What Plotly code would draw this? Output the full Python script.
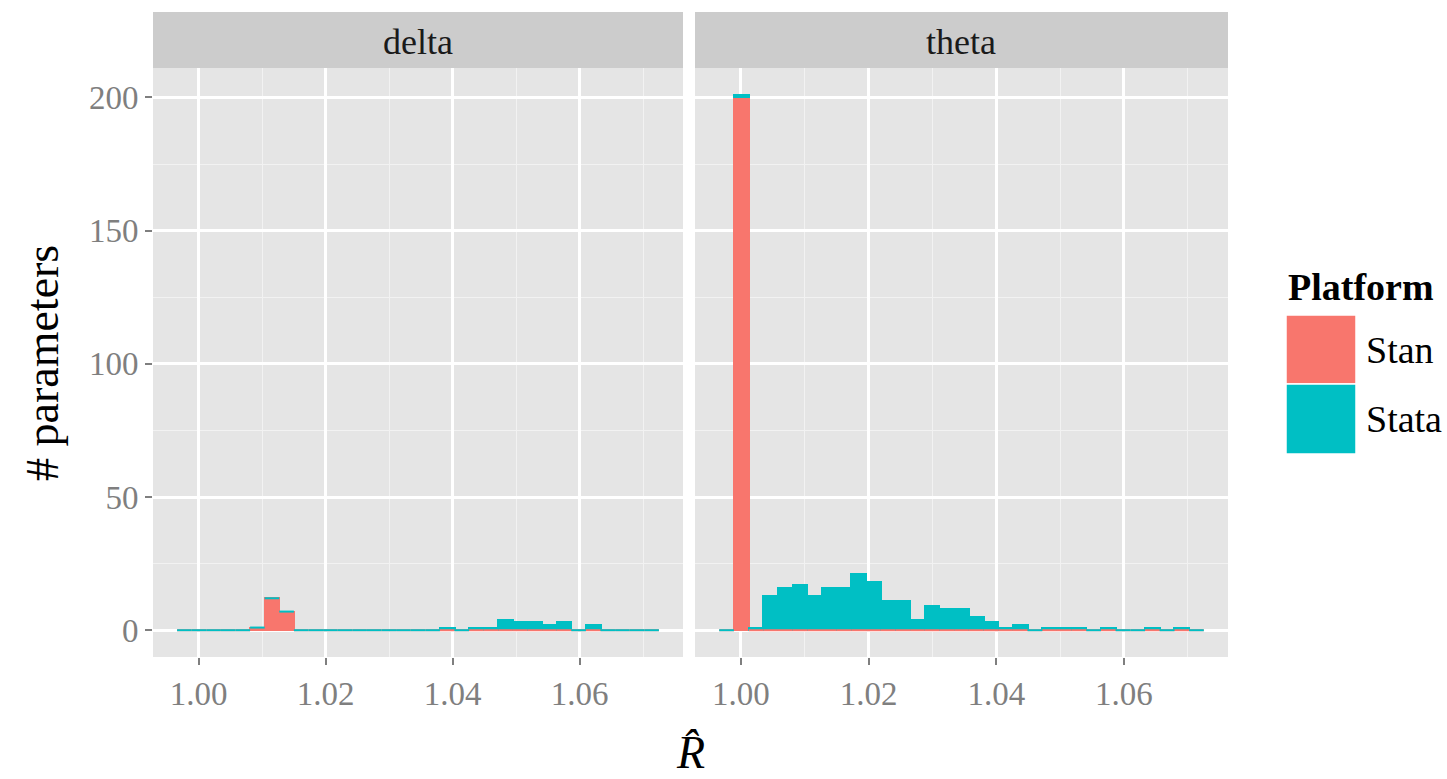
import plotly.graph_objects as go

# Histogram bins (shared by both facets)
bin_start = 0.9966
bin_width = 0.0023
n_bins = 33

facets = ["delta", "theta"]
platforms = ["Stan", "Stata"]
colors = {"Stan": "#F8766D", "Stata": "#00BFC4"}

# Counts per bin
delta_stan = [0, 0, 0, 0, 0, 1, 12, 7, 0, 0, 0, 0, 0, 0, 0, 0, 0, 0, 0, 0,
              0, 0, 0, 0, 0, 0, 0, 0, 0, 0, 0, 0, 0]
delta_stata = [0, 0, 0, 0, 0, 0, 0, 0, 0, 0, 0, 0, 0, 0, 0, 0, 0, 0, 1, 0,
               1, 1, 4, 3, 3, 2, 3, 0, 2, 0, 0, 0, 0]
theta_stan = [0, 200, 0, 0, 0, 0, 0, 0, 0, 0, 0, 0, 0, 0, 0, 0, 0, 0, 0, 0,
              0, 0, 0, 0, 0, 0, 0, 0, 0, 0, 0, 0, 0]
theta_stata = [0, 1, 1, 13, 16, 17, 13, 16, 16, 21, 18, 11, 11, 4, 9, 8, 8, 5, 3, 1,
               2, 0, 1, 1, 1, 0, 1, 0, 0, 1, 0, 1, 0]

counts = {
    "delta": {"Stan": delta_stan, "Stata": delta_stata},
    "theta": {"Stan": theta_stan, "Stata": theta_stata},
}

x_major = [1.00, 1.02, 1.04, 1.06]
x_minor = [1.01, 1.03, 1.05, 1.07]
y_major = [0, 50, 100, 150, 200]
y_minor = [25, 75, 125, 175]

W, H = 1447, 779
serif = "Liberation Serif"

edges = [bin_start + bin_width * k for k in range(n_bins + 1)]
centers = [(edges[k] + edges[k + 1]) / 2 for k in range(n_bins)]

# ggplot-style 5% expansion
x_lo, x_hi = edges[0], edges[-1]
x_pad = (x_hi - x_lo) * 0.05
y_max = max(max(a + b for a, b in zip(counts[f]["Stan"], counts[f]["Stata"])) for f in facets)
y_pad = y_max * 0.05

fig = go.Figure()

panel_px = {"delta": (153, 683), "theta": (695, 1228)}
panel_top, panel_bot = 68, 657
strip_top = 12

for i, f in enumerate(facets):
    xa = "x" if i == 0 else "x2"
    ya = "y" if i == 0 else "y2"
    stan = counts[f]["Stan"]
    for p in platforms:
        vals = counts[f][p]
        fig.add_trace(go.Bar(
            x=centers, y=[v if v > 0 else None for v in vals], width=bin_width,
            marker=dict(color=colors[p], line=dict(color=colors[p], width=2)),
            xaxis=xa, yaxis=ya, showlegend=False, hoverinfo="x+y", name=p))
    # outlines of empty bins (zero-height bars keep their border)
    for p in platforms:
        sx, sy = [], []
        for k in range(n_bins):
            if counts[f][p][k] == 0:
                base = 0 if p == "Stan" else stan[k]
                sx += [edges[k], edges[k + 1], None]
                sy += [base, base, None]
        fig.add_trace(go.Scatter(
            x=sx, y=sy, mode="lines", line=dict(color=colors[p], width=2),
            xaxis=xa, yaxis=ya, showlegend=False, hoverinfo="skip"))

    x0p, x1p = panel_px[f]
    fig.add_shape(type="rect", xref="paper", yref="paper",
                  x0=x0p / W, x1=x1p / W, y0=1 - panel_top / H, y1=1 - strip_top / H,
                  fillcolor="#CCCCCC", line=dict(width=0), layer="below")
    fig.add_annotation(text=f, xref="paper", yref="paper",
                       x=(x0p + x1p) / 2 / W, y=1 - (strip_top + panel_top + 4) / 2 / H,
                       showarrow=False, font=dict(family=serif, size=36, color="#1A1A1A"),
                       xanchor="center", yanchor="middle")

axis_common = dict(
    showgrid=True, gridcolor="white", gridwidth=2.6, zeroline=False,
    ticks="outside", ticklen=7, tickwidth=2, tickcolor="#7F7F7F",
    tickfont=dict(family=serif, size=33, color="#7F7F7F"),
    showline=False,
)

xdom1 = [panel_px["delta"][0] / W, panel_px["delta"][1] / W]
xdom2 = [panel_px["theta"][0] / W, panel_px["theta"][1] / W]
ydom = [1 - panel_bot / H, 1 - panel_top / H]

xkw = dict(axis_common, range=[x_lo - x_pad, x_hi + x_pad], tickvals=x_major,
           ticktext=[f"{v:.2f}" for v in x_major],
           minor=dict(tickvals=x_minor, showgrid=True, gridcolor="#F2F2F2", gridwidth=1.4, ticks=""))
ykw = dict(axis_common, range=[-y_pad, y_max + y_pad], tickvals=y_major,
           ticktext=[str(v) for v in y_major],
           minor=dict(tickvals=y_minor, showgrid=True, gridcolor="#F2F2F2", gridwidth=1.4, ticks=""))

fig.update_layout(
    width=W, height=H,
    margin=dict(l=0, r=0, t=0, b=0),
    paper_bgcolor="white", plot_bgcolor="#E5E5E5",
    barmode="stack", bargap=0,
    showlegend=False,
    xaxis=dict(xkw, domain=xdom1, anchor="y"),
    xaxis2=dict(xkw, domain=xdom2, anchor="y2", matches="x"),
    yaxis=dict(ykw, domain=ydom, anchor="x"),
    yaxis2=dict(ykw, domain=ydom, anchor="x2", matches="y", showticklabels=False, ticks=""),
)

# axis titles
fig.add_annotation(text="# parameters", xref="paper", yref="paper",
                   x=42 / W, y=1 - 363 / H, textangle=-90, showarrow=False,
                   font=dict(family=serif, size=46, color="black"),
                   xanchor="center", yanchor="middle")
fig.add_annotation(text="<i>R\u0302</i>", xref="paper", yref="paper",
                   x=690 / W, y=0, showarrow=False,
                   font=dict(family=serif, size=46, color="black"),
                   xanchor="center", yanchor="bottom", borderpad=0)

# legend drawn as keys plus labels
fig.add_annotation(text="<b>Platform</b>", xref="paper", yref="paper",
                   x=1286 / W, y=1 - 287 / H, showarrow=False,
                   font=dict(family=serif, size=38, color="black"),
                   xanchor="left", yanchor="middle")
key_rows = [(315, 384), (384, 454)]
for p, (t, b) in zip(platforms, key_rows):
    fig.add_shape(type="rect", xref="paper", yref="paper",
                  x0=1286 / W, x1=1356 / W, y0=1 - b / H, y1=1 - t / H,
                  fillcolor=colors[p], line=dict(color="white", width=1.5))
    fig.add_annotation(text=p, xref="paper", yref="paper",
                       x=1364 / W, y=1 - (t + b) / 2 / H, showarrow=False,
                       font=dict(family=serif, size=38, color="black"),
                       xanchor="left", yanchor="middle")

fig.write_html("out.html")
